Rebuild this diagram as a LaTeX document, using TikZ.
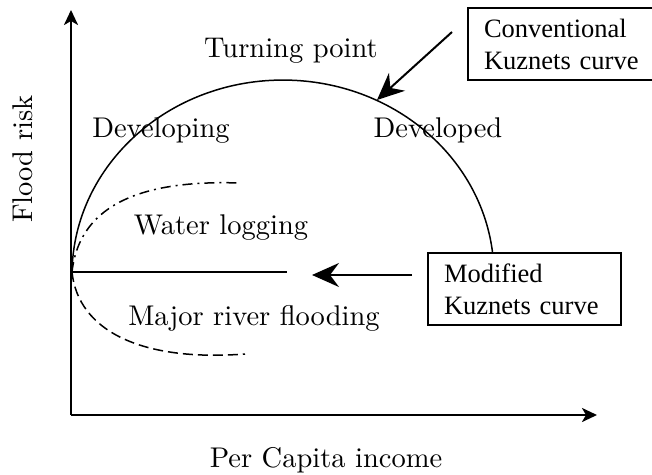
\documentclass[tikz,border=0pt]{standalone}
\usepackage{fontspec}
\newfontfamily\boxfont{Liberation Serif}
\newfontfamily\lblfont{lmroman10-regular.otf}
\usetikzlibrary{arrows.meta}
\begin{document}
\begin{tikzpicture}[x=1pt,y=1pt,
  axisline/.style={line width=2.5pt,-{Stealth[length=15pt,width=14pt,inset=4pt]}},
  curveline/.style={line width=1.5pt},
  callout/.style={line width=2pt,-{Stealth[length=27pt,width=24pt,inset=9pt]}},
  lbl/.style={font=\lblfont\fontsize{28.5}{34}\selectfont, inner sep=0pt, anchor=base},
  legendbox/.style={draw, line width=2pt, fill=white, anchor=north west,
    font=\boxfont\fontsize{26.5}{32}\selectfont, align=left,
    inner xsep=16pt, inner ysep=0pt, text width=161pt, minimum height=72pt},
]
\useasboundingbox (0,0) rectangle (652,474);

% axes
\coordinate (O) at (71,59);
\coordinate (ytop) at (71,464);
\coordinate (xend) at (597,59);
\draw[axisline] (O) -- (ytop);
\draw[axisline] (O) -- (xend);

% curves starting at the common point on the risk axis
\coordinate (J) at (72,202);
\coordinate (hend) at (287,202);
\coordinate (wlend) at (240,291);
\coordinate (rfend) at (245,120);
\draw[curveline] (J) arc[start angle=179.1, end angle=6.8, x radius=211, y radius=195] coordinate (ckend);
\draw[curveline] (J) -- (hend);
\draw[curveline, dash pattern=on 10pt off 5pt on 2pt off 5pt]
  (J) .. controls (80,274) and (150,294) .. (wlend);
\draw[curveline, dash pattern=on 10pt off 5pt]
  (J) .. controls (78,144) and (140,112) .. (rfend);

% legend boxes
\node[legendbox] (conv) at (467,467) {Conventional\\Kuznets curve};
\node[legendbox] (mod) at (427,222) {Modified\\Kuznets curve};

% callout arrows
\coordinate (a1start) at (452,442);
\coordinate (a1tip) at (377,374);
\coordinate (a2start) at (412,199);
\coordinate (a2tip) at (312,199);
\draw[callout] (a1start) -- (a1tip);
\draw[callout] (a2start) -- (a2tip);

% labels
\node[lbl] (turn) at (291,416) {Turning point};
\node[lbl] (dvg) at (161,336) {Developing};
\node[lbl] (dvd) at (438,336) {Developed};
\node[lbl] (wl) at (221,239) {Water logging};
\node[lbl] (mrf) at (254,149) {Major river flooding};
\node[lbl] (xlab) at (326,7) {Per Capita income};
\node[lbl, rotate=90] (ylab) at (32,315) {Flood risk};
\end{tikzpicture}
\end{document}
